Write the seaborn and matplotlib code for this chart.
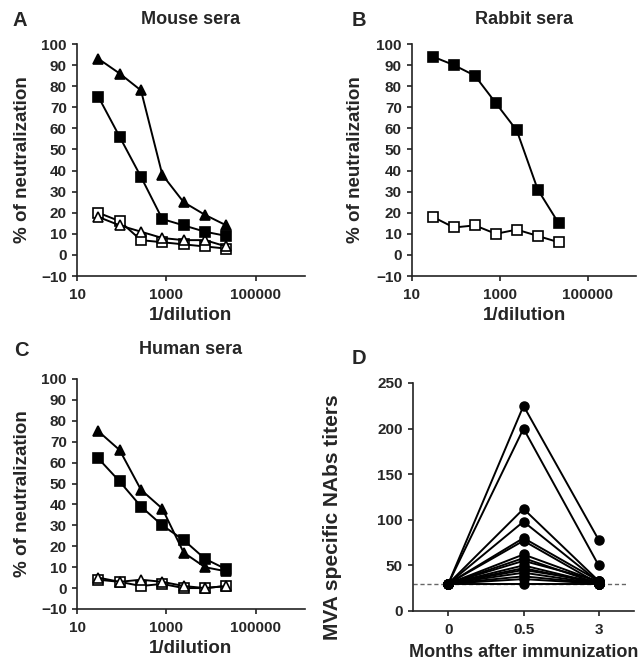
import numpy as np
import pandas as pd
import seaborn as sns
import matplotlib.pyplot as plt

# dilution series (3-fold from 1:30)
dilution = [30, 90, 270, 810, 2430, 7290, 21870]

# A - mouse sera
mouse_tri_fill = [93, 86, 78, 38, 25, 19, 14]
mouse_sq_fill = [75, 56, 37, 17, 14, 11, 9]
mouse_sq_open = [20, 16, 7, 6, 5, 4, 3]
mouse_tri_open = [18, 14, 11, 8, 7, 7, 4]

# B - rabbit sera
rabbit_sq_fill = [94, 90, 85, 72, 59, 31, 15]
rabbit_sq_open = [18, 13, 14, 10, 12, 9, 6]

# C - human sera
human_tri_fill = [75, 66, 47, 38, 17, 10, 8]
human_sq_fill = [62, 51, 39, 30, 23, 14, 9]
human_tri_open = [5, 3, 4, 3, 1, 0, 1]
human_sq_open = [4, 3, 1, 2, 0, 0, 1]

# D - MVA titers per subject
months = ["0", "0.5", "3"]
titer_m0 = [30, 30, 30, 30, 30, 30, 30, 30, 30, 30, 30, 30, 30, 30, 30, 30]
titer_m05 = [225, 200, 112, 98, 80, 77, 62, 58, 55, 50, 47, 45, 42, 38, 35, 30]
titer_m3 = [78, 50, 33, 32, 33, 30, 32, 30, 33, 30, 30, 32, 30, 30, 30, 30]
cutoff = 30

sns.set_theme(style="ticks")
plt.rcParams["font.family"] = ["Liberation Sans", "DejaVu Sans"]
plt.rcParams["font.weight"] = "bold"
plt.rcParams["axes.labelweight"] = "bold"

W, H = 642, 663
fig = plt.figure(figsize=(W / 100, H / 100), dpi=100)


def add_ax(left, top, right, bottom):
    return fig.add_axes([left / W, 1 - bottom / H, (right - left) / W, (bottom - top) / H])


def style_ax(ax):
    sns.despine(ax=ax)
    for s in ["left", "bottom"]:
        ax.spines[s].set_linewidth(1.2)
        ax.spines[s].set_color("#222222")
    ax.tick_params(axis="both", length=3.8, width=1.2, labelsize=11, color="#222222")
    ax.tick_params(axis="x", pad=4.5)
    for lab in ax.get_xticklabels() + ax.get_yticklabels():
        lab.set_fontweight("bold")


def series(ax, values, marker, filled):
    df = pd.DataFrame({"dil": dilution, "pct": values})
    sns.lineplot(data=df, x="dil", y="pct", ax=ax, color="black", lw=1.4,
                 marker=marker, markersize=7 if marker == "s" else 7.5,
                 markeredgecolor="black", markeredgewidth=1.2,
                 markerfacecolor="black" if filled else "white")


def neut_panel(ax, title, letter, letter_x, title_y, lines, ylab_x):
    for vals, mk, filled in lines:
        series(ax, vals, mk, filled)
    ax.set_xscale("log")
    ax.set_xlim(10, 10 ** 6.1)
    ax.set_ylim(-10, 100)
    ax.set_xticks([10, 1000, 100000])
    ax.set_xticklabels(["10", "1000", "100000"])
    ax.xaxis.set_minor_locator(plt.NullLocator())
    ax.set_yticks(range(-10, 101, 10))
    ax.set_xlabel("1/dilution", fontsize=13.5, va="center")
    ax.xaxis.set_label_coords(0.5, -0.172)
    ax.set_ylabel("% of neutralization", fontsize=13.5, va="center")
    ax.yaxis.set_label_coords(ylab_x, 0.5)
    style_ax(ax)
    pos = ax.get_position()
    fig.text(pos.x0 + pos.width / 2, 1 - title_y / H, title, ha="center", va="center",
             fontsize=13, fontweight="bold")
    fig.text(letter_x / W, 1 - title_y / H, letter, ha="center", va="center",
             fontsize=14.5, fontweight="bold")


axA = add_ax(77, 44, 305, 276)
neut_panel(axA, "Mouse sera", "A", 20, 20,
           [(mouse_sq_open, "s", False), (mouse_tri_open, "^", False),
            (mouse_sq_fill, "s", True), (mouse_tri_fill, "^", True)], -0.241)

axB = add_ax(412, 44, 636, 276)
neut_panel(axB, "Rabbit sera", "B", 359, 20,
           [(rabbit_sq_open, "s", False), (rabbit_sq_fill, "s", True)], -0.25)

axC = add_ax(77, 379, 305, 609)
neut_panel(axC, "Human sera", "C", 21, 350,
           [(human_sq_open, "s", False), (human_tri_open, "^", False),
            (human_sq_fill, "s", True), (human_tri_fill, "^", True)], -0.241)

# D
axD = add_ax(413, 383, 634, 611)
n = len(titer_m05)
dfD = pd.DataFrame({
    "subject": np.repeat(np.arange(n), 3),
    "month": months * n,
    "titer": np.column_stack([titer_m0, titer_m05, titer_m3]).ravel(),
})
axD.axhline(cutoff, xmax=0.97, color="#666666", lw=1, ls=(0, (3, 2)), zorder=0)
sns.pointplot(data=dfD, x="month", y="titer", hue="subject", order=months,
              palette=["black"] * n, errorbar=None, legend=False, ax=axD,
              markers="o", markersize=6.5, linewidth=1.4)
axD.set_xlim(-0.47, 2.47)
axD.set_ylim(0, 250)
axD.set_yticks(range(0, 251, 50))
axD.set_xlabel("Months after immunization", fontsize=13, va="center")
axD.xaxis.set_label_coords(0.5, -0.18)
axD.set_ylabel("MVA specific NAbs titers", fontsize=15, va="center")
axD.yaxis.set_label_coords(-0.362, 0.41)
style_ax(axD)
fig.text(359 / W, 1 - 358 / H, "D", ha="center", va="center", fontsize=14.5, fontweight="bold")

fig.savefig("out.png", dpi=100, facecolor="white")
